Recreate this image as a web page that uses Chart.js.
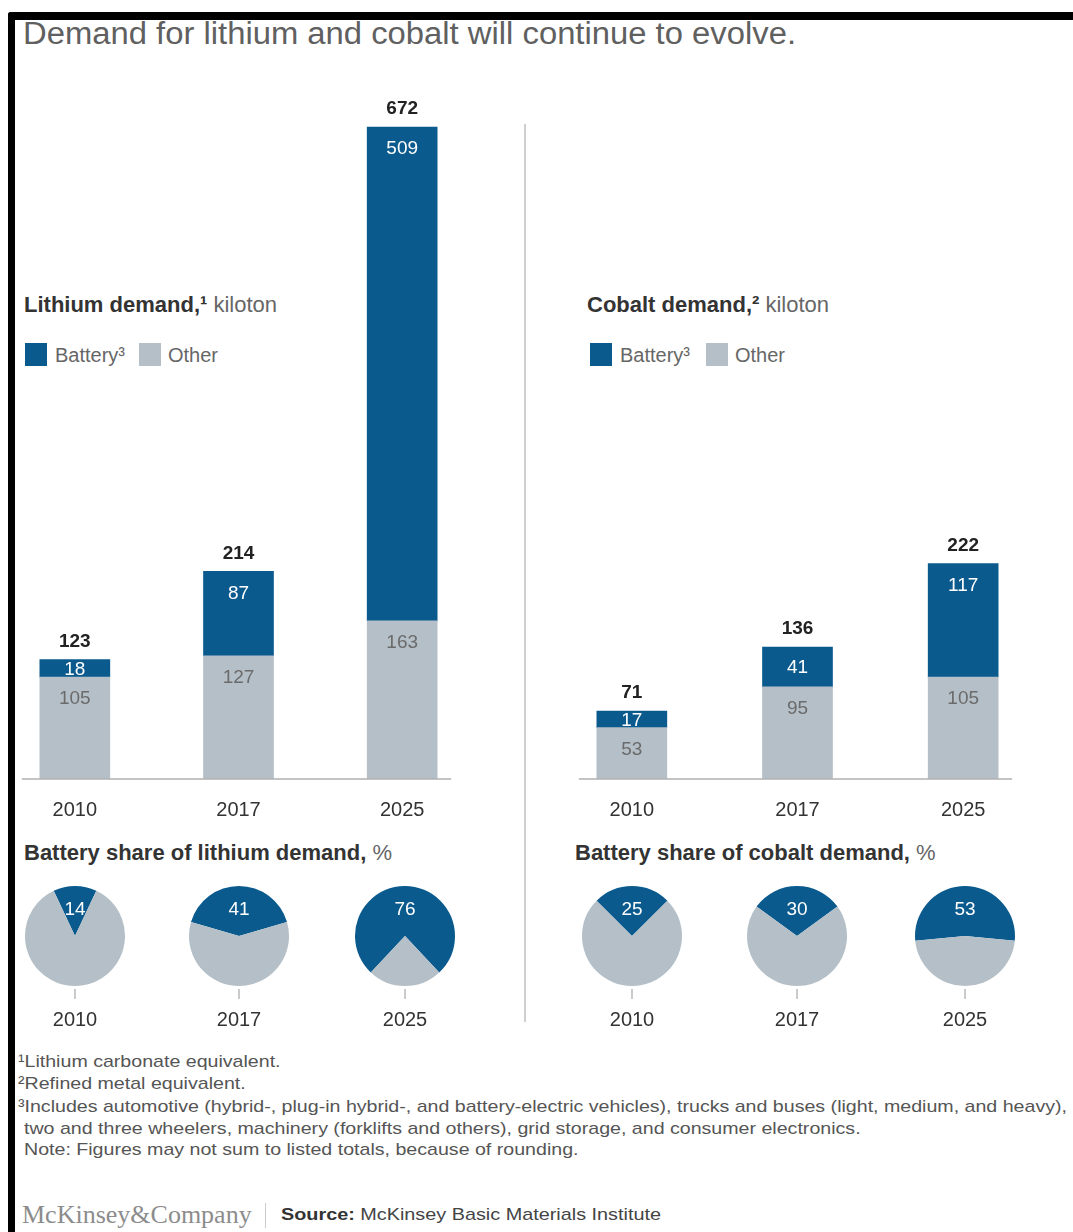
<!DOCTYPE html>
<html>
<head>
<meta charset="utf-8">
<script src="https://cdn.jsdelivr.net/npm/chart.js@4.4.0/dist/chart.umd.min.js"></script>
<style>
  body { margin: 0; width: 1073px; height: 1232px; position: relative; overflow: hidden; background: #fff;
         font-family: "Liberation Sans", Arial, sans-serif; }
  .abs { position: absolute; line-height: 1; white-space: nowrap; transform-origin: 0 50%; }
  canvas { position: absolute; }
  .frame { position: absolute; background: #000; }
  .head { font-size: 22px; color: #666; }
  .head b { color: #333; }
  .key { position: absolute; width: 22px; height: 23px; }
  .lbl { font-size: 20px; color: #666; }
  .note { font-size: 17px; color: #555; }
</style>
</head>
<body>
<div class="frame" style="left:8px;top:12px;width:1065px;height:8px;border-top-left-radius:3px"></div>
<div class="frame" style="left:8px;top:12px;width:7px;height:1220px;border-top-left-radius:3px"></div>

<div class="abs" id="title" style="left:23px;top:18px;font-size:31px;color:#606060">Demand for lithium and cobalt will continue to evolve.</div>
<div style="position:absolute;left:524px;top:124px;width:2px;height:898px;background:#cfcfcf"></div>

<div class="abs head" style="left:24px;top:294px"><b>Lithium demand,¹</b> kiloton</div>
<div class="key" style="left:25px;top:343px;background:#0a5a8e"></div>
<div class="abs lbl" style="left:55px;top:345px">Battery³</div>
<div class="key" style="left:139px;top:343px;background:#b4bfc7"></div>
<div class="abs lbl" style="left:168px;top:345px">Other</div>

<div class="abs head" style="left:587px;top:294px"><b>Cobalt demand,²</b> kiloton</div>
<div class="key" style="left:590px;top:343px;background:#0a5a8e"></div>
<div class="abs lbl" style="left:620px;top:345px">Battery³</div>
<div class="key" style="left:706px;top:343px;background:#b4bfc7"></div>
<div class="abs lbl" style="left:735px;top:345px">Other</div>

<div class="abs head" style="left:24px;top:842px"><b>Battery share of lithium demand,</b> %</div>
<div class="abs head" style="left:575px;top:842px"><b>Battery share of cobalt demand,</b> %</div>

<canvas id="liBars" width="520" height="760" style="left:-20px;top:80px"></canvas>
<canvas id="coBars" width="540" height="760" style="left:530px;top:80px"></canvas>

<canvas id="liPie0" width="110" height="150" style="left:20px;top:881px"></canvas>
<canvas id="liPie1" width="110" height="150" style="left:184px;top:881px"></canvas>
<canvas id="liPie2" width="110" height="150" style="left:350px;top:881px"></canvas>
<canvas id="coPie0" width="110" height="150" style="left:577px;top:881px"></canvas>
<canvas id="coPie1" width="110" height="150" style="left:742px;top:881px"></canvas>
<canvas id="coPie2" width="110" height="150" style="left:910px;top:881px"></canvas>

<div class="abs note" style="left:18px;top:1053px">¹Lithium carbonate equivalent.</div>
<div class="abs note" style="left:18px;top:1075px">²Refined metal equivalent.</div>
<div class="abs note" id="longNote" style="left:18px;top:1098px">³Includes automotive (hybrid-, plug-in hybrid-, and battery-electric vehicles), trucks and buses (light, medium, and heavy),</div>
<div class="abs note" style="left:24px;top:1120px">two and three wheelers, machinery (forklifts and others), grid storage, and consumer electronics.</div>
<div class="abs note" style="left:24px;top:1141px">Note: Figures may not sum to listed totals, because of rounding.</div>

<div class="abs" style="left:22px;top:1202px;font-size:26px;color:#8c8c8c;font-family:'Liberation Serif','Times New Roman',serif">McKinsey&amp;Company</div>
<div style="position:absolute;left:265px;top:1203px;width:1px;height:25px;background:#ccc"></div>
<div class="abs" id="source" style="left:281px;top:1206px;font-size:17px;color:#444"><b style="color:#333">Source:</b> McKinsey Basic Materials Institute</div>

<script>
const years = ["2010", "2017", "2025"];

const lithiumBattery = [18, 87, 509];
const lithiumOther = [105, 127, 163];
const lithiumTotal = [123, 214, 672];

const cobaltBattery = [17, 41, 117];
const cobaltOther = [53, 95, 105];
const cobaltTotal = [71, 136, 222];

const lithiumShare = [14, 41, 76];
const cobaltShare = [25, 30, 53];

const BLUE = "#0a5a8e";
const GREY = "#b4bfc7";
const FONT = '"Liberation Sans", Arial, sans-serif';

Chart.defaults.font.family = FONT;

// stretch or squeeze a text line to the width it has in the reference
const fitWidth = (el, target) => {
    const factor = target / el.getBoundingClientRect().width;
    el.style.transform = `scaleX(${factor})`;
    return factor;
};

fitWidth(document.querySelector("#title"), 773);
fitWidth(document.querySelector("#source"), 380);
const squeeze = fitWidth(document.querySelector("#longNote"), 1049);
document.querySelectorAll(".note").forEach(el => {
    el.style.transform = `scaleX(${squeeze})`;
});

const barLabels = {
    id: "barLabels",
    afterDatasetsDraw(chart, args, opts) {
        const ctx = chart.ctx;
        ctx.save();
        ctx.textAlign = "center";
        ctx.textBaseline = "middle";
        ctx.font = `19px ${FONT}`;
        chart.data.datasets.forEach((ds, i) => {
            chart.getDatasetMeta(i).data.forEach((bar, j) => {
                const h = bar.base - bar.y;
                const y = h > 42 ? bar.y + 21 : bar.y + h / 2;
                ctx.fillStyle = i === 0 ? "#6b6b6b" : "#ffffff";
                ctx.fillText(ds.data[j], bar.x, y + 1);
            });
        });
        const tops = chart.getDatasetMeta(chart.data.datasets.length - 1).data;
        ctx.font = `bold 19px ${FONT}`;
        ctx.fillStyle = "#222";
        tops.forEach((bar, j) => ctx.fillText(opts.totals[j], bar.x, bar.y - 18));

        // baseline
        const first = tops[0], last = tops[tops.length - 1];
        const y0 = chart.scales.y.getPixelForValue(0);
        ctx.strokeStyle = "#b0b0b0";
        ctx.lineWidth = 1.5;
        ctx.beginPath();
        ctx.moveTo(first.x - first.width / 2 - 18, y0);
        ctx.lineTo(last.x + last.width / 2 + 14, y0);
        ctx.stroke();
        ctx.restore();
    }
};

const makeBars = (id, other, battery, totals, padLeft, padRight) => {
    new Chart(document.getElementById(id), {
        type: "bar",
        data: {
            labels: years,
            datasets: [
                { label: "Other", data: other, backgroundColor: GREY },
                { label: "Battery", data: battery, backgroundColor: BLUE }
            ]
        },
        options: {
            responsive: false,
            animation: false,
            events: [],
            barThickness: 70,
            layout: { padding: { left: padLeft, right: padRight, top: 20, bottom: 11 } },
            plugins: {
                legend: { display: false },
                tooltip: { enabled: false },
                barLabels: { totals: totals }
            },
            scales: {
                x: {
                    stacked: true,
                    grid: { display: false },
                    border: { display: false },
                    ticks: { color: "#333", font: { size: 20 }, padding: 11 },
                    afterFit: (scale) => { scale.height = 50; }
                },
                y: { stacked: true, display: false, min: 0, max: 700 }
            }
        },
        plugins: [barLabels]
    });
};

makeBars("liBars", lithiumOther, lithiumBattery, lithiumTotal, 13, 16);
makeBars("coBars", cobaltOther, cobaltBattery, cobaltTotal, 19, 24);

const pieLabels = {
    id: "pieLabels",
    afterDraw(chart, args, opts) {
        const ctx = chart.ctx;
        const arc = chart.getDatasetMeta(0).data[0];
        const cx = arc.x, cy = arc.y, r = arc.outerRadius;
        ctx.save();
        ctx.textAlign = "center";
        ctx.textBaseline = "middle";
        ctx.font = `19px ${FONT}`;
        ctx.fillStyle = "#fff";
        ctx.fillText(chart.data.datasets[0].data[0], cx, cy - 26);
        ctx.strokeStyle = "#b8b8b8";
        ctx.lineWidth = 1.5;
        ctx.beginPath();
        ctx.moveTo(cx, cy + r + 3);
        ctx.lineTo(cx, cy + r + 13);
        ctx.stroke();
        ctx.font = `20px ${FONT}`;
        ctx.fillStyle = "#333";
        ctx.fillText(opts.year, cx, cy + r + 34);
        ctx.restore();
    }
};

const makePie = (id, share, year) => {
    new Chart(document.getElementById(id), {
        type: "pie",
        data: {
            labels: ["Battery", "Other"],
            datasets: [{
                data: [share, 100 - share],
                backgroundColor: [BLUE, GREY],
                borderWidth: 0,
                hoverOffset: 0
            }]
        },
        options: {
            responsive: false,
            animation: false,
            events: [],
            rotation: -share * 1.8,
            layout: { padding: { left: 5, right: 5, top: 5, bottom: 45 } },
            plugins: {
                legend: { display: false },
                tooltip: { enabled: false },
                pieLabels: { year: year }
            }
        },
        plugins: [pieLabels]
    });
};

lithiumShare.forEach((s, i) => makePie("liPie" + i, s, years[i]));
cobaltShare.forEach((s, i) => makePie("coPie" + i, s, years[i]));
</script>
</body>
</html>
